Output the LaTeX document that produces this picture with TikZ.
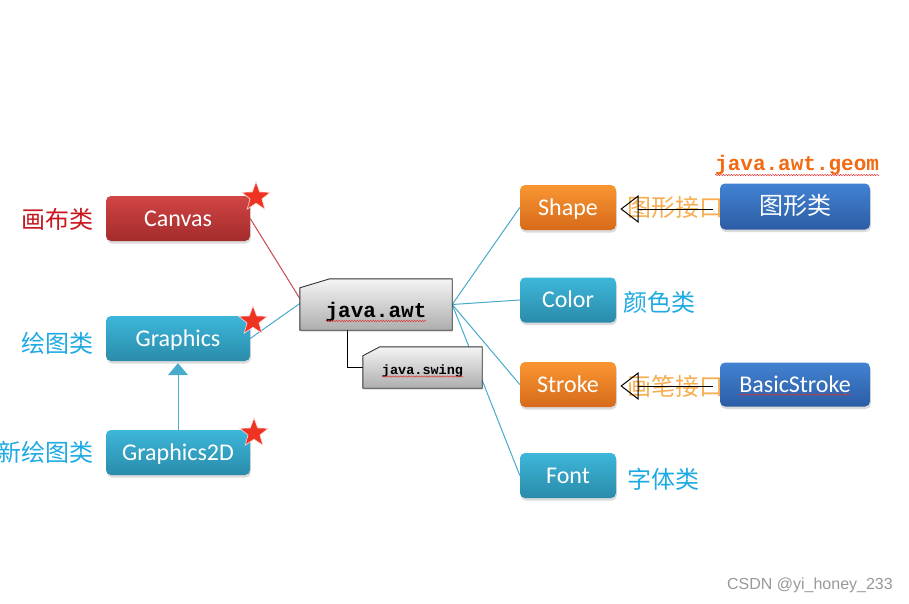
\documentclass[tikz,border=0pt]{standalone}
\usepackage{fontspec}
\setmainfont{Carlito}
\newfontfamily\cjk{Noto Sans CJK SC}
\newfontfamily\codefont{Liberation Mono}
\newfontfamily\markfont{Liberation Sans}
\usetikzlibrary{shapes.geometric,arrows.meta,shadows,decorations.pathmorphing}
\pgfdeclarelayer{bg}
\pgfsetlayers{bg,main}

\definecolor{redtop}{HTML}{D24545}
\definecolor{redbot}{HTML}{A32B2B}
\definecolor{cyantop}{HTML}{3DB7DA}
\definecolor{cyanbot}{HTML}{2A8BAA}
\definecolor{orgtop}{HTML}{FA9632}
\definecolor{orgbot}{HTML}{D66A1A}
\definecolor{bluetop}{HTML}{4282D2}
\definecolor{bluebot}{HTML}{2C5DA5}
\definecolor{linkblue}{HTML}{48ABCB}
\definecolor{linkred}{HTML}{C84A4A}
\definecolor{labred}{HTML}{C8161E}
\definecolor{labblue}{HTML}{1EAAE2}
\definecolor{labor}{HTML}{F7AE50}
\definecolor{geomor}{HTML}{F26A12}
\definecolor{starred}{HTML}{EE3322}
\definecolor{squigred}{HTML}{E03030}

\tikzset{
  card/.style={rounded corners=5pt, inner sep=0pt, text=white,
    font=\fontsize{24}{24}\selectfont, text height=15.5pt, text depth=0pt,
    drop shadow={opacity=0.28, shadow xshift=0.8pt, shadow yshift=-2.5pt}},
  wide/.style={minimum width=144pt, minimum height=45pt},
  narrow/.style={minimum width=96pt, minimum height=45pt},
  classbox/.style={minimum width=150pt, minimum height=46pt},
  redcard/.style={card, top color=redtop, bottom color=redbot},
  cyancard/.style={card, top color=cyantop, bottom color=cyanbot},
  orangecard/.style={card, top color=orgtop, bottom color=orgbot},
  bluecard/.style={card, top color=bluetop, bottom color=bluebot},
  cnlabel/.style={font=\cjk\fontsize{24}{24}\selectfont, inner sep=0pt},
  pkgshape/.style={draw=black!80, line width=0.9pt, top color=black!4, bottom color=black!32,
    drop shadow={opacity=0.2, shadow xshift=0.8pt, shadow yshift=-2pt}},
  link/.style={draw=linkblue, line width=1pt},
  redlink/.style={draw=linkred, line width=1pt},
  ifaceline/.style={draw=black, line width=1pt},
  ifacehead/.style={draw=black, line width=1pt, line join=miter},
  badge/.style={star, star points=5, star point ratio=2.4, minimum size=30pt, inner sep=0pt,
    fill=starred, draw=white!85!red, line width=0.6pt},
  squiggle/.style={draw=squigred, line width=0.45pt,
    decorate, decoration={snake, amplitude=0.7pt, segment length=2.6pt}}
}

\begin{document}
\begin{tikzpicture}[x=1pt,y=-1pt]
\useasboundingbox (0,0) rectangle (909,604);
\begin{pgfonlayer}{bg}
  \fill[white] (0,0) rectangle (909,604);
\end{pgfonlayer}

% class boxes
\node[redcard, wide] (canvas) at (178,218.5) {Canvas};
\node[cyancard, wide] (graphics) at (178,338.5) {Graphics};
\node[cyancard, wide] (g2d) at (178,452.5) {Graphics2D};

\node[orangecard, narrow] (shape) at (568,207.5) {Shape};
\node[cyancard, narrow] (color) at (568,300) {Color};
\node[orangecard, narrow] (stroke) at (568,384.5) {Stroke};
\node[cyancard, narrow] (font) at (568,475.5) {Font};

\node[bluecard, classbox, font=\cjk\fontsize{24}{24}\selectfont] (shapecls) at (795,206.5) {图形类};
\node[bluecard, classbox, minimum height=44pt] (basic) at (795,384.5) {};
\node[inner sep=0pt, text=white, font=\fontsize{24}{24}\selectfont] (basictext) at (795,384.5) {BasicStroke};
\path[squiggle] ([yshift=-1.5pt]basictext.south west) -- ([yshift=-1.5pt]basictext.south east);

% package boxes
\node[minimum width=152pt, minimum height=51pt, inner sep=0pt] (awt) at (376,304.5) {};
\node[minimum width=119pt, minimum height=41pt, inner sep=0pt] (swing) at (422.5,367.5) {};
\path[pkgshape] ([yshift=-9pt]awt.north west) -- ([xshift=30pt]awt.north west) -- (awt.north east)
  -- (awt.south east) -- (awt.south west) -- cycle;
\path[pkgshape] ([yshift=-9pt]swing.north west) -- ([xshift=17pt]swing.north west) -- (swing.north east)
  -- (swing.south east) -- (swing.south west) -- cycle;
\node[inner sep=0pt, font=\codefont\bfseries\fontsize{21}{21}\selectfont] (awttext) at (376,312) {java.awt};
\node[inner sep=0pt, font=\codefont\bfseries\fontsize{13.5}{13.5}\selectfont] (swingtext) at (422.5,371) {java.swing};
\path[squiggle] ([yshift=1pt]awttext.south west) -- ([yshift=1pt]awttext.south east);
\path[squiggle] ([yshift=1pt]swingtext.south west) -- ([yshift=1pt]swingtext.south east);

\node[inner sep=0pt, anchor=west, text=geomor, font=\codefont\bfseries\fontsize{21}{21}\selectfont] (geom) at (715,165) {java.awt.geom};
\path[squiggle] (geom.south west) -- (geom.south east);

% stars
\node[badge] (star1) at (256,197) {};
\node[badge] (star2) at (253,321) {};
\node[badge] (star3) at (254,433) {};

% interface (realization) arrows: open triangle at the interface end
\coordinate (tipA) at ([xshift=5pt,yshift=-1.5pt]shape.east);
\coordinate (tipB) at ([xshift=5pt,yshift=-1.5pt]stroke.east);
\draw[ifaceline] ([xshift=-7pt]shapecls.west |- tipA) -- ([xshift=17pt]tipA);
\draw[ifacehead] (tipA) -- ([xshift=17pt,yshift=13pt]tipA) -- ([xshift=17pt,yshift=-13pt]tipA) -- cycle;
\draw[ifaceline] ([xshift=-7pt]basic.west |- tipB) -- ([xshift=17pt]tipB);
\draw[ifacehead] (tipB) -- ([xshift=17pt,yshift=13pt]tipB) -- ([xshift=17pt,yshift=-13pt]tipB) -- cycle;

% labels and connectors behind the boxes
\begin{pgfonlayer}{bg}
  \node[cnlabel, anchor=east, text=labred] (lcanvas) at (94,219) {画布类};
  \node[cnlabel, anchor=east, text=labblue] (lgraphics) at (94,343.5) {绘图类};
  \node[cnlabel, anchor=east, text=labblue] (lg2d) at (94,452.5) {新绘图类};
  \node[cnlabel, anchor=west, text=labblue] (lcolor) at (623,302) {颜色类};
  \node[cnlabel, anchor=west, text=labblue] (lfont) at (627,479) {字体类};
  \node[cnlabel, anchor=west, text=labor] (lshape) at (627,207) {图形接口};
  \node[cnlabel, anchor=west, text=labor] (lstroke) at (627,386.5) {画笔接口};

  \draw[redlink] (canvas.east) -- ([yshift=6pt]awt.west);
  \draw[link] (graphics.east) -- ([yshift=1pt]awt.west);
  \draw[link] (awt.east) -- (shape.west);
  \draw[link] (awt.east) -- (color.west);
  \draw[link] (awt.east) -- (stroke.west);
  \draw[link] (awt.east) -- (font.west);
  \draw[draw=linkblue, line width=1pt, -{Triangle[length=12pt,width=20pt]}, shorten >=2pt]
    (g2d.north) -- (graphics.south);

  \coordinate (elbow) at (347,367);
  \draw[black, line width=0.9pt] (awt.south -| elbow) -- (elbow) -- (elbow -| swing.west);
\end{pgfonlayer}

% watermark
\node[inner sep=0pt, anchor=east, text=black!40, font=\markfont\fontsize{16}{16}\selectfont] (mark) at (893,585) {CSDN @yi\_honey\_233};
\end{tikzpicture}
\end{document}
